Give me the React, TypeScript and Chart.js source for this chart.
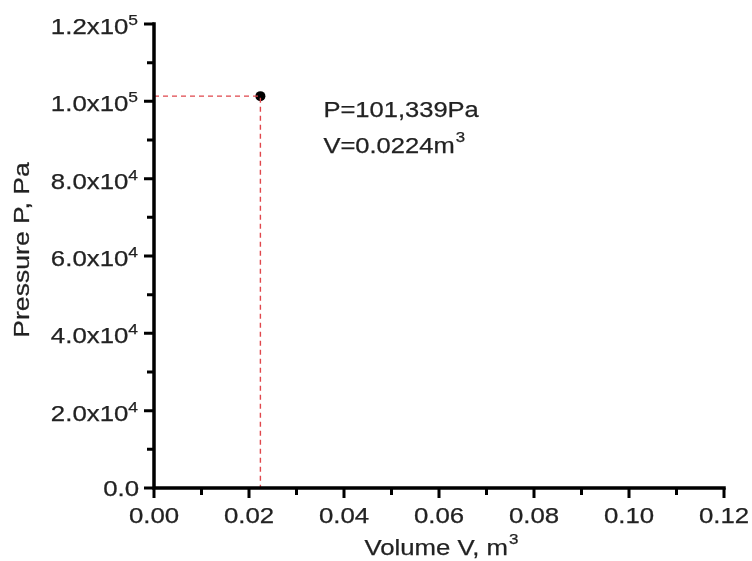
import { useEffect, useRef } from "react";
import { Chart, registerables } from "chart.js";
Chart.register(...registerables);

// ---- data ----
const volumeV = [0.0224];
const pressureP = [101339];
const xMajorTicks = [0, 0.02, 0.04, 0.06, 0.08, 0.1, 0.12];
const xTickLabels = ["0.00", "0.02", "0.04", "0.06", "0.08", "0.10", "0.12"];
const xMinorTicks = [0.01, 0.03, 0.05, 0.07, 0.09, 0.11];
const yMajorTicks = [0, 20000, 40000, 60000, 80000, 100000, 120000];
const yTickMantissas = ["0.0", "2.0x10", "4.0x10", "6.0x10", "8.0x10", "1.0x10", "1.2x10"];
const yTickExponents = ["", "4", "4", "4", "4", "5", "5"];
const yMinorTicks = [10000, 30000, 50000, 70000, 90000, 110000];
const annotationLine1 = "P=101,339Pa";
const annotationLine2 = "V=0.0224m";
const annotationLine2Sup = "3";
const xTitle = "Volume V, m";
const xTitleSup = "3";
const yTitle = "Pressure P, Pa";

const FONT_FAMILY = '"Liberation Sans", Arial, sans-serif';
const TEXT_COLOR = "#222222";

function drawText(
  ctx: CanvasRenderingContext2D,
  s: string,
  x: number,
  y: number,
  size: number,
  align: "left" | "right" | "center",
  sx: number
): number {
  ctx.save();
  ctx.font = `${size}px ${FONT_FAMILY}`;
  const w = ctx.measureText(s).width * sx;
  const x0 = align === "right" ? x - w : align === "center" ? x - w / 2 : x;
  ctx.translate(x0, y);
  ctx.scale(sx, 1);
  ctx.textAlign = "left";
  ctx.textBaseline = "alphabetic";
  ctx.fillStyle = TEXT_COLOR;
  ctx.strokeStyle = TEXT_COLOR;
  ctx.lineWidth = 0.25;
  ctx.fillText(s, 0, 0);
  ctx.strokeText(s, 0, 0);
  ctx.restore();
  return w;
}

function measure(ctx: CanvasRenderingContext2D, s: string, size: number, sx: number) {
  ctx.save();
  ctx.font = `${size}px ${FONT_FAMILY}`;
  const w = ctx.measureText(s).width * sx;
  ctx.restore();
  return w;
}

const axesPlugin = {
  id: "customAxes",
  afterDraw(chart: any) {
    const ctx: CanvasRenderingContext2D = chart.ctx;
    const xs = chart.scales.x;
    const ys = chart.scales.y;
    const area = chart.chartArea;
    const SX = 1.2;
    const MAIN = 21.5;
    const SUP = 14.5;

    // axis lines
    ctx.save();
    ctx.strokeStyle = "#000";
    ctx.lineWidth = 3.5;
    ctx.lineCap = "square";
    ctx.beginPath();
    ctx.moveTo(area.left, area.top);
    ctx.lineTo(area.left, area.bottom);
    ctx.lineTo(area.right, area.bottom);
    ctx.stroke();

    // ticks
    ctx.lineWidth = 3;
    ctx.lineCap = "butt";
    ctx.beginPath();
    for (const v of xMajorTicks) {
      const px = xs.getPixelForValue(v);
      ctx.moveTo(px, area.bottom);
      ctx.lineTo(px, area.bottom + 10);
    }
    for (const v of xMinorTicks) {
      const px = xs.getPixelForValue(v);
      ctx.moveTo(px, area.bottom);
      ctx.lineTo(px, area.bottom + 7);
    }
    for (const v of yMajorTicks) {
      const py = ys.getPixelForValue(v);
      ctx.moveTo(area.left, py);
      ctx.lineTo(area.left - 10, py);
    }
    for (const v of yMinorTicks) {
      const py = ys.getPixelForValue(v);
      ctx.moveTo(area.left, py);
      ctx.lineTo(area.left - 7, py);
    }
    ctx.stroke();
    ctx.restore();

    // x tick labels
    xMajorTicks.forEach((v, i) => {
      const px = xs.getPixelForValue(v);
      drawText(ctx, xTickLabels[i], px, area.bottom + 35, MAIN, "center", SX);
    });

    // y tick labels
    yMajorTicks.forEach((v, i) => {
      const py = ys.getPixelForValue(v);
      const right = area.left - 16;
      const exp = yTickExponents[i];
      if (exp) {
        const ew = measure(ctx, exp, SUP, SX);
        drawText(ctx, exp, right, py + 1, SUP, "right", SX);
        drawText(ctx, yTickMantissas[i], right - ew, py + 10, MAIN, "right", SX);
      } else {
        drawText(ctx, yTickMantissas[i], right + 1, py + 8, MAIN, "right", SX);
      }
    });

    // x title
    {
      const cx = (area.left + area.right) / 2 + 2;
      const w1 = measure(ctx, xTitle, 22, 1.17);
      const w2 = measure(ctx, xTitleSup, SUP, 1.17);
      const start = cx - (w1 + w2) / 2;
      drawText(ctx, xTitle, start, area.bottom + 67, 22, "left", 1.17);
      drawText(ctx, xTitleSup, start + w1 + 1, area.bottom + 56, SUP, "left", 1.17);
    }

    // y title
    {
      ctx.save();
      ctx.translate(29, (area.top + area.bottom) / 2 - 6);
      ctx.rotate(-Math.PI / 2);
      drawText(ctx, yTitle, 0, 0, 22, "center", 1.21);
      ctx.restore();
    }

    // annotation next to the point
    {
      const px = xs.getPixelForValue(volumeV[0]);
      const py = ys.getPixelForValue(pressureP[0]);
      const left = px + 63;
      drawText(ctx, annotationLine1, left, py + 21, 22, "left", 1.16);
      const w = drawText(ctx, annotationLine2, left, py + 57, 22, "left", 1.16);
      drawText(ctx, annotationLine2Sup, left + w + 1, py + 46, SUP, "left", 1.16);
    }
  },
};

export default function App() {
  const ref = useRef<HTMLCanvasElement | null>(null);

  useEffect(() => {
    if (!ref.current) return;
    const guide = [
      { x: 0, y: pressureP[0] },
      { x: volumeV[0], y: pressureP[0] },
      { x: volumeV[0], y: 0 },
    ];
    const chart = new Chart(ref.current, {
      type: "scatter",
      data: {
        datasets: [
          {
            data: guide,
            showLine: true,
            borderColor: "#e0474c",
            borderWidth: 1.4,
            borderDash: [5, 4],
            pointRadius: 0,
            fill: false,
          },
          {
            data: volumeV.map((v, i) => ({ x: v, y: pressureP[i] })),
            pointRadius: 5,
            pointBackgroundColor: "#000",
            pointBorderColor: "#000",
            pointBorderWidth: 0,
          },
        ],
      },
      options: {
        responsive: false,
        animation: false,
        devicePixelRatio: 1,
        layout: { padding: { left: 0, top: 24, right: 28, bottom: 0 } },
        plugins: {
          legend: { display: false },
          tooltip: { enabled: false },
        },
        scales: {
          x: {
            type: "linear",
            min: 0,
            max: 0.12,
            grid: { display: false },
            border: { display: false },
            ticks: { display: false },
            afterFit: (s: any) => {
              s.height = 73;
            },
          },
          y: {
            type: "linear",
            min: 0,
            max: 120000,
            grid: { display: false },
            border: { display: false },
            ticks: { display: false },
            afterFit: (s: any) => {
              s.width = 154;
            },
          },
        },
      },
      plugins: [axesPlugin],
    });
    return () => chart.destroy();
  }, []);

  return (
    <div style={{ position: "absolute", left: 0, top: 0, width: 752, height: 561, background: "#fff" }}>
      <canvas ref={ref} width={752} height={561} style={{ display: "block" }} />
    </div>
  );
}
